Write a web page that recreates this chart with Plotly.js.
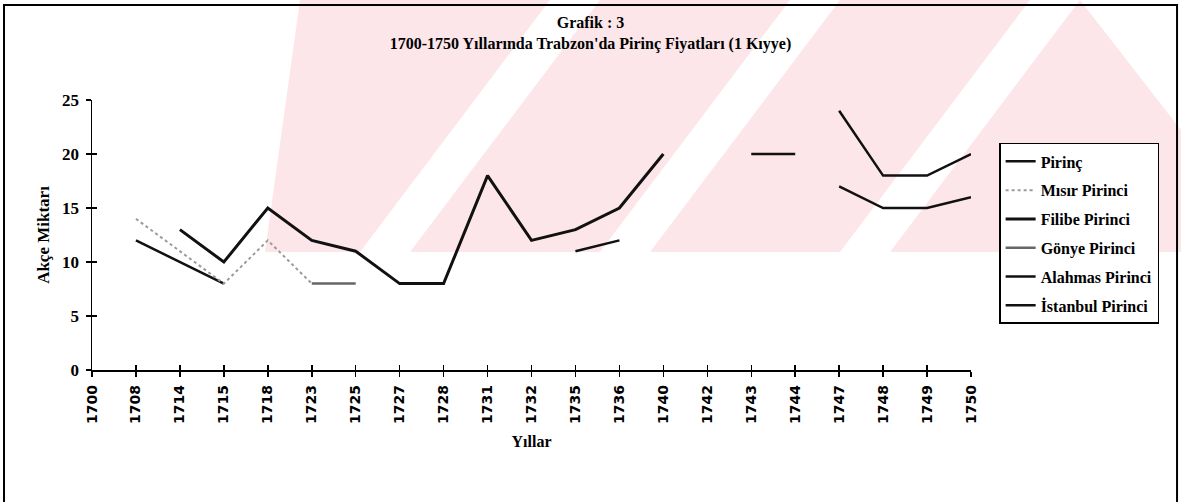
<!DOCTYPE html>
<html>
<head>
<meta charset="utf-8">
<script src="https://cdn.plot.ly/plotly-3.0.1.min.js"></script>
<style>
  html, body { margin: 0; padding: 0; background: #fff; overflow: hidden; }
  #chart { width: 1181px; height: 502px; }
</style>
</head>
<body>
<div id="chart"></div>
<script>
// ---- data ----
const years = ['1700','1708','1714','1715','1718','1723','1725','1727','1728','1731','1732',
               '1735','1736','1740','1742','1743','1744','1747','1748','1749','1750'];
const seriesNames = ['Pirinç','Mısır Pirinci','Filibe Pirinci','Gönye Pirinci','Alahmas Pirinci','İstanbul Pirinci'];
//                1700 1708 1714 1715 1718 1723 1725 1727 1728 1731 1732 1735 1736 1740 1742 1743 1744 1747 1748 1749 1750
const pirinc   = [null, 12,  10,   8, null,null,null,null,null,null,null,null,null,null,null, 20,  20, null,null,null,null];
const misir    = [null, 14,  11,   8,  12,   8, null,null,null,null,null,null,null,null,null,null,null,null,null,null,null];
const filibe   = [null,null,  13,  10,  15,  12,  11,   8,   8,  18,  12,  13,  15,  20, null,null,null,null,null,null,null];
const gonye    = [null,null,null,null,null,   8,   8, null,null,null,null,null,null,null,null,null,null,null,null,null,null];
const alahmas  = [null,null,null,null,null,null,null,null,null,null,null,  11,  12, null,null,null,null,  17,  15,  15,  16];
const istanbul = [null,null,null,null,null,null,null,null,null,null,null,null,null,null,null,null,null,  24,  18,  18,  20];

const values = [pirinc, misir, filibe, gonye, alahmas, istanbul];
const styles = [
  {color:'#111', width:2.5, dash:'solid'},
  {color:'#9a9a9a', width:2, dash:'dot'},
  {color:'#111', width:3, dash:'solid'},
  {color:'#666', width:2.5, dash:'solid'},
  {color:'#111', width:2.5, dash:'solid'},
  {color:'#111', width:2.5, dash:'solid'}
];

const traces = values.map((v, i) => ({
  type: 'scatter', mode: 'lines', name: seriesNames[i],
  x: years, y: v, connectgaps: false,
  line: styles[i], legendgroup: 'g' + i,
  hoverinfo: 'x+y+name'
}));
// helper trace so the inside-tick overlay axes exist
traces.push({type:'scatter', mode:'lines', x:[null], y:[null], xaxis:'x2', yaxis:'y2',
             showlegend:false, hoverinfo:'skip'});

const serif = 'Liberation Serif, Times New Roman, serif';

// faint scanned watermark behind the chart (decoration, page pixels -> paper)
const PL = 92, PW = 879, PB = 370, PH = 270;
function poly(pts) {
  return 'M' + pts.map(p => ((p[0]-PL)/PW).toFixed(4) + ',' + ((PB-p[1])/PH).toFixed(4)).join(' L') + ' Z';
}
const pink = '#fce6e9';
const wmShapes = [
  {type:'path', xref:'paper', yref:'paper', layer:'below', line:{width:0}, fillcolor:pink,
   path: poly([[300,0],[1181,0],[1181,252],[265,252]])}
];
[360, 600, 840].forEach(xb => wmShapes.push(
  {type:'path', xref:'paper', yref:'paper', layer:'below', line:{width:0}, fillcolor:'#fff',
   path: poly([[xb,252],[xb+50,252],[xb+240,0],[xb+190,0]])}));
wmShapes.push({type:'path', xref:'paper', yref:'paper', layer:'below', line:{width:0}, fillcolor:'#fff',
   path: poly([[1080,0],[1181,0],[1181,130]])});

const layout = {
  width: 1181, height: 502,
  paper_bgcolor: '#fff', plot_bgcolor: 'rgba(0,0,0,0)',
  margin: {l: 92, r: 210, t: 100, b: 132, pad: 0},
  showlegend: true,
  title: {
    text: 'Grafik : 3<br>1700-1750 Yıllarında Trabzon\'da Pirinç Fiyatları (1 Kıyye)',
    x: 0.5, xref: 'container', xanchor: 'center',
    y: 0.944, yref: 'container', yanchor: 'top',
    font: {family: serif, size: 16, color: '#000', weight: 'bold'}
  },
  xaxis: {
    type: 'category', categoryorder: 'array', categoryarray: years,
    range: [0, 20], showgrid: false, zeroline: false,
    showline: true, linecolor: '#000', linewidth: 1.5,
    ticks: 'outside', ticklen: 5, tickwidth: 1.5, tickcolor: '#000',
    tickangle: -90, ticklabelstandoff: 3,
    tickfont: {family: 'DejaVu Sans', size: 14, color: '#000', weight: 'bold'},
    title: {text: 'Yıllar', standoff: 12,
            font: {family: serif, size: 16, color: '#000', weight: 'bold'}},
    automargin: false, fixedrange: true
  },
  yaxis: {
    range: [0, 25], dtick: 5, tick0: 0, showgrid: false, zeroline: false,
    showline: true, linecolor: '#000', linewidth: 1.5,
    ticks: 'outside', ticklen: 5, tickwidth: 1.5, tickcolor: '#000',
    ticklabelstandoff: 3,
    tickfont: {family: serif, size: 17, color: '#000', weight: 'bold'},
    title: {text: 'Akçe Miktarı', standoff: 8,
            font: {family: serif, size: 17, color: '#000', weight: 'bold'}},
    automargin: false, fixedrange: true
  },
  xaxis2: {
    overlaying: 'x', anchor: 'y2', side: 'bottom', range: [0, 20], dtick: 1, tick0: 0,
    showgrid: false, zeroline: false, showline: false, showticklabels: false,
    ticks: 'inside', ticklen: 5, tickwidth: 1.5, tickcolor: '#000', fixedrange: true
  },
  yaxis2: {
    overlaying: 'y', anchor: 'x2', side: 'left', range: [0, 25], dtick: 5, tick0: 0,
    showgrid: false, zeroline: false, showline: false, showticklabels: false,
    ticks: 'inside', ticklen: 5, tickwidth: 1.5, tickcolor: '#000', fixedrange: true
  },
  legend: {
    x: 1.032, y: 0.841, xanchor: 'left', yanchor: 'top',
    bgcolor: '#fff', bordercolor: '#000', borderwidth: 1.5,
    font: {family: serif, size: 16, color: '#000', weight: 'bold'},
    tracegroupgap: 5, traceorder: 'grouped'
  },
  shapes: wmShapes.concat([
    {type: 'rect', xref: 'paper', yref: 'paper',
     x0: -0.1001, x1: 1.2344, y0: -0.56, y1: 1.352,
     line: {color: '#000', width: 2}, fillcolor: 'rgba(0,0,0,0)', layer: 'above'}
  ])
};

Plotly.newPlot('chart', traces, layout, {displayModeBar: false, staticPlot: true});
</script>
</body>
</html>
